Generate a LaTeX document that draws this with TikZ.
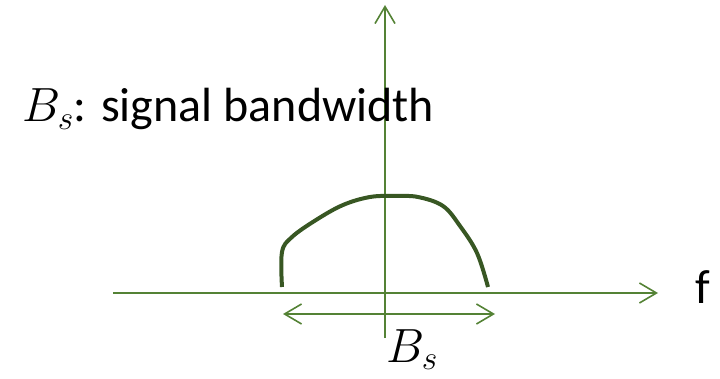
\RequirePackage{fix-cm}
\documentclass[tikz,border=0pt]{standalone}
\usepackage{fontspec}
\setmainfont{Carlito}
\usepackage{tikz}
\usetikzlibrary{positioning,arrows.meta}
\definecolor{AxisGreen}{HTML}{548235}
\definecolor{CurveGreen}{HTML}{385723}

\begin{document}
\begin{tikzpicture}[
  x=1pt,y=-1pt,
  axis/.style={draw=AxisGreen,line width=1.6pt,-{Straight Barb[length=17pt,width=20pt,line width=1.6pt]}},
  span/.style={draw=AxisGreen,line width=1.6pt,
    {Straight Barb[length=17pt,width=20pt,line width=1.6pt]}-{Straight Barb[length=17pt,width=20pt,line width=1.6pt]}},
  spec/.style={draw=CurveGreen,line width=4pt},
  lbl/.style={inner sep=0pt,font=\fontsize{48}{54}\selectfont}
]
  \useasboundingbox (0,0) rectangle (720,379);
  % axes
  \coordinate (xstart) at (113,293);
  \coordinate (xend) at (658,293);
  \coordinate (ystart) at (385,338);
  \coordinate (yend) at (385,5);
  \draw[axis] (xstart) -- (xend);
  \draw[axis] (ystart) -- (yend);
  \node[lbl,anchor=base west] (faxis) at (695,303) {f};
  % spectrum
  \draw[spec] plot[smooth,tension=0.6] coordinates {(282,287) (282,252) (292,237)
    (316,220) (343,205) (370,197) (395,196) (418,197) (443,206) (460,226) (477,253) (488,287)};
  % bandwidth
  \coordinate (bwleft) at (283,314);
  \coordinate (bwright) at (495,314);
  \draw[span] (bwleft) -- (bwright);
  \node[lbl,anchor=base] (bwname) at (412,362) {$B_s$};
  \node[lbl,anchor=base west] (legend) at (22,122) {$B_s$: signal bandwidth};
\end{tikzpicture}
\end{document}
